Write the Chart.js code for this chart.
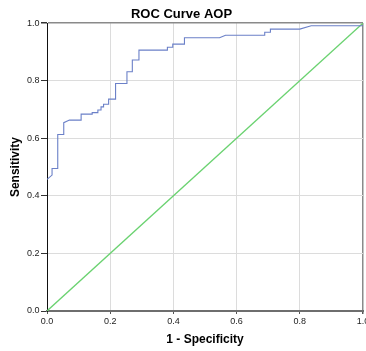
<!DOCTYPE html>
<html>
<head>
<meta charset="utf-8">
<script src="https://cdn.jsdelivr.net/npm/chart.js@4"></script>
<style>
  html, body { margin: 0; padding: 0; background: #fff; }
  #wrap { width: 366px; height: 351px; }
</style>
</head>
<body>
<div id="wrap"><canvas id="myChart" width="366" height="351"></canvas></div>
<script>
// Dữ liệu đường ROC (1 - specificity, sensitivity)
const fpr = [0, 0.016, 0.016, 0.034, 0.034, 0.053, 0.053, 0.071, 0.108, 0.108,
  0.143, 0.143, 0.161, 0.161, 0.171, 0.171, 0.179, 0.179, 0.195, 0.195,
  0.217, 0.217, 0.253, 0.253, 0.270, 0.270, 0.291, 0.291, 0.381, 0.381,
  0.398, 0.398, 0.435, 0.435, 0.546, 0.565, 0.689, 0.689, 0.707, 0.707,
  0.800, 0.836, 1.0];
const tpr = [0.457, 0.472, 0.495, 0.495, 0.613, 0.613, 0.654, 0.663, 0.663, 0.684,
  0.684, 0.689, 0.689, 0.698, 0.698, 0.709, 0.709, 0.718, 0.718, 0.736,
  0.736, 0.790, 0.790, 0.831, 0.831, 0.872, 0.872, 0.906, 0.906, 0.916,
  0.916, 0.927, 0.927, 0.949, 0.949, 0.958, 0.958, 0.968, 0.968, 0.979,
  0.979, 0.991, 0.991];
// Đường tham chiếu
const refX = [0, 1];
const refY = [0, 1];
const tickValues = [0, 0.2, 0.4, 0.6, 0.8, 1.0];

const toPoints = (xs, ys) => xs.map((x, i) => ({ x: x, y: ys[i] }));

const gridColor = c => (c.tick && c.tick.value === 1) ? '#8a8a8a' : '#dcdcdc';
const gridWidth = c => (c.tick && c.tick.value === 1) ? 1.5 : 1;

const ctx = document.getElementById('myChart');
const myChart = new Chart(ctx.getContext('2d'), {
  type: 'scatter',
  data: {
    datasets: [{
      label: 'AOP',
      data: toPoints(fpr, tpr),
      showLine: true,
      borderColor: '#6b80c8',
      borderWidth: 1.1,
      pointRadius: 0,
      tension: 0
    }, {
      label: 'Reference',
      data: toPoints(refX, refY),
      showLine: true,
      borderColor: '#6ad270',
      borderWidth: 1.3,
      pointRadius: 0
    }]
  },
  options: {
    responsive: false,
    animation: false,
    layout: { padding: { left: 0, right: 3, top: 0, bottom: 0 } },
    plugins: {
      legend: { display: false },
      tooltip: { enabled: false },
      title: {
        display: true,
        text: 'ROC Curve AOP',
        color: '#000',
        font: { family: 'Arial, "Liberation Sans"', size: 13, weight: 'bold' },
        padding: { top: 7, bottom: 0.5 }
      }
    },
    scales: {
      x: {
        type: 'linear',
        min: 0,
        max: 1,
        afterBuildTicks: s => { s.ticks = tickValues.map(v => ({ value: v })); },
        afterFit: s => { s.height = 40; s.paddingLeft = 0; s.paddingRight = 0; },
        ticks: {
          color: '#222',
          padding: 2,
          maxRotation: 0,
          font: { family: 'Arial, "Liberation Sans"', size: 9 },
          callback: v => v.toFixed(1)
        },
        grid: { color: gridColor, lineWidth: gridWidth, tickColor: '#555', tickLength: 3 },
        border: { color: '#6e6e6e', width: 2 },
        title: {
          display: true,
          text: '1 - Specificity',
          color: '#000',
          font: { family: 'Arial, "Liberation Sans"', size: 12, weight: 'bold' },
          padding: { top: 0, bottom: 4 }
        }
      },
      y: {
        type: 'linear',
        min: 0,
        max: 1,
        afterBuildTicks: s => { s.ticks = tickValues.map(v => ({ value: v })); },
        afterFit: s => { s.width = 47; s.paddingTop = 0; s.paddingBottom = 0; },
        ticks: {
          color: '#222',
          padding: 1.5,
          font: { family: 'Arial, "Liberation Sans"', size: 9 },
          callback: v => v.toFixed(1)
        },
        grid: { color: gridColor, lineWidth: gridWidth, tickColor: '#333', tickLength: 6 },
        border: { color: '#111', width: 1 },
        title: {
          display: true,
          text: 'Sensitivity',
          color: '#000',
          font: { family: 'Arial, "Liberation Sans"', size: 12, weight: 'bold' },
          padding: { top: 8, bottom: 0 }
        }
      }
    }
  }
});
</script>
</body>
</html>
